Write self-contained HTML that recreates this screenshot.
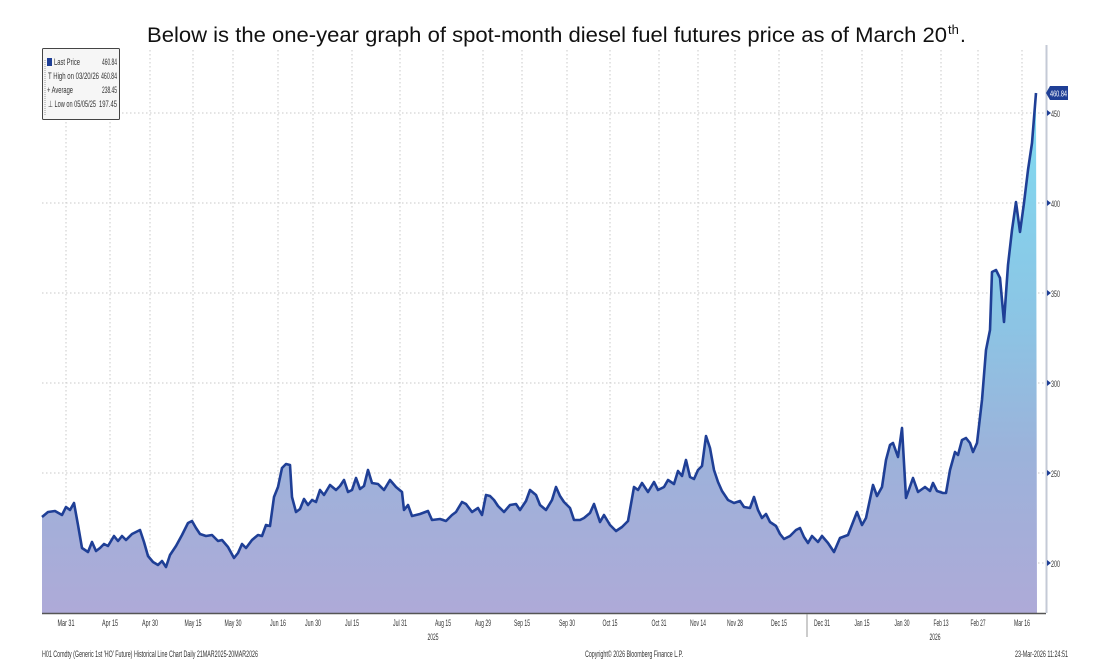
<!DOCTYPE html>
<html><head><meta charset="utf-8"><style>
html,body{margin:0;padding:0;background:#fff;}
svg{display:block;}
text{font-family:"Liberation Sans",sans-serif;}
.t{font-size:9px;fill:#333;}
</style></head><body>
<svg width="1116" height="664" viewBox="0 0 1116 664" xmlns="http://www.w3.org/2000/svg">
<defs>
<linearGradient id="g" gradientUnits="userSpaceOnUse" x1="0" y1="90" x2="0" y2="613">
<stop offset="0" stop-color="#7fdcf2"/>
<stop offset="0.45" stop-color="#8cc4e4"/>
<stop offset="0.7" stop-color="#9cb2da"/>
<stop offset="1" stop-color="#aeaad8"/>
</linearGradient>
</defs>
<text x="147" y="42" font-size="21" textLength="800" lengthAdjust="spacingAndGlyphs" fill="#111">Below is the one-year graph of spot-month diesel fuel futures price as of March 20</text>
<text x="948" y="34" font-size="13" fill="#111">th</text>
<text x="960" y="42" font-size="21" fill="#111">.</text>

<g stroke="#c8c8c8" stroke-width="1" stroke-dasharray="1.5,2.5">
<line x1="42" y1="113" x2="1046" y2="113"/><line x1="42" y1="203" x2="1046" y2="203"/>
<line x1="42" y1="293" x2="1046" y2="293"/><line x1="42" y1="383" x2="1046" y2="383"/>
<line x1="42" y1="473" x2="1046" y2="473"/><line x1="42" y1="563" x2="1046" y2="563"/>
<line x1="66" y1="50" x2="66" y2="613"/><line x1="110" y1="50" x2="110" y2="613"/>
<line x1="150" y1="50" x2="150" y2="613"/><line x1="193" y1="50" x2="193" y2="613"/>
<line x1="233" y1="50" x2="233" y2="613"/><line x1="278" y1="50" x2="278" y2="613"/>
<line x1="313" y1="50" x2="313" y2="613"/><line x1="352" y1="50" x2="352" y2="613"/>
<line x1="400" y1="50" x2="400" y2="613"/><line x1="443" y1="50" x2="443" y2="613"/>
<line x1="483" y1="50" x2="483" y2="613"/><line x1="522" y1="50" x2="522" y2="613"/>
<line x1="567" y1="50" x2="567" y2="613"/><line x1="610" y1="50" x2="610" y2="613"/>
<line x1="659" y1="50" x2="659" y2="613"/><line x1="698" y1="50" x2="698" y2="613"/>
<line x1="735" y1="50" x2="735" y2="613"/><line x1="779" y1="50" x2="779" y2="613"/>
<line x1="822" y1="50" x2="822" y2="613"/><line x1="862" y1="50" x2="862" y2="613"/>
<line x1="902" y1="50" x2="902" y2="613"/><line x1="941" y1="50" x2="941" y2="613"/>
<line x1="978" y1="50" x2="978" y2="613"/><line x1="1022" y1="50" x2="1022" y2="613"/>
</g>

<polygon fill="url(#g)" points="42,613 42,517 48,512 55,511 62,515 66,507 70,510 74,503 78,525 82,548 88,552 92,542 96,551 100,548 104,544 108,546 114,536 118,541 122,536 126,540 132,534 140,530 144,542 148,556 153,562 158,565 162,561 166,567 170,555 176,546 182,535 188,523 192,521 196,528 200,534 206,536 212,535 218,541 222,540 228,547 234,558 238,553 242,544 246,548 252,540 258,535 262,536 266,525 270,526 274,497 278,487 282,468 286,464 290,465 292,497 296,512 300,509 304,499 308,505 312,500 316,502 320,490 324,495 330,485 336,490 340,486 344,480 348,492 352,490 356,478 360,489 364,486 368,470 372,483 378,484 384,490 390,480 396,487 402,492 404,510 408,505 412,516 420,514 428,511 432,520 440,519 446,521 452,515 456,512 462,502 466,504 472,512 478,508 482,515 486,495 490,496 494,500 498,506 504,512 510,505 516,504 520,510 526,501 530,490 536,495 540,505 546,510 552,500 556,487 560,496 564,502 570,508 574,520 580,520 584,518 590,513 594,504 600,522 604,515 610,525 616,531 622,527 628,521 634,487 638,490 642,483 648,492 654,482 658,490 664,487 668,480 674,484 678,471 682,476 686,460 690,477 694,479 698,470 702,466 706,436 710,448 714,470 718,482 722,491 728,500 734,503 740,501 744,507 750,508 754,497 758,510 762,518 766,514 770,522 776,526 780,534 784,539 790,536 796,530 800,528 804,537 808,543 812,536 818,542 822,536 828,543 834,552 840,538 848,535 857,512 862,525 866,518 873,485 877,496 882,487 886,460 890,445 893,443 898,457 902,428 906,498 913,478 918,492 925,487 930,491 933,483 937,491 943,493 946,493 950,470 955,452 958,455 962,440 966,438 970,443 973,452 977,443 982,400 986,350 990,330 992,272 996,270 1000,278 1004,322 1008,265 1012,230 1016,202 1020,232 1024,203 1028,170 1032,143 1036,93 1037,613"/>
<polyline fill="none" stroke="#1f3f96" stroke-width="2.6" stroke-linejoin="round" points="42,517 48,512 55,511 62,515 66,507 70,510 74,503 78,525 82,548 88,552 92,542 96,551 100,548 104,544 108,546 114,536 118,541 122,536 126,540 132,534 140,530 144,542 148,556 153,562 158,565 162,561 166,567 170,555 176,546 182,535 188,523 192,521 196,528 200,534 206,536 212,535 218,541 222,540 228,547 234,558 238,553 242,544 246,548 252,540 258,535 262,536 266,525 270,526 274,497 278,487 282,468 286,464 290,465 292,497 296,512 300,509 304,499 308,505 312,500 316,502 320,490 324,495 330,485 336,490 340,486 344,480 348,492 352,490 356,478 360,489 364,486 368,470 372,483 378,484 384,490 390,480 396,487 402,492 404,510 408,505 412,516 420,514 428,511 432,520 440,519 446,521 452,515 456,512 462,502 466,504 472,512 478,508 482,515 486,495 490,496 494,500 498,506 504,512 510,505 516,504 520,510 526,501 530,490 536,495 540,505 546,510 552,500 556,487 560,496 564,502 570,508 574,520 580,520 584,518 590,513 594,504 600,522 604,515 610,525 616,531 622,527 628,521 634,487 638,490 642,483 648,492 654,482 658,490 664,487 668,480 674,484 678,471 682,476 686,460 690,477 694,479 698,470 702,466 706,436 710,448 714,470 718,482 722,491 728,500 734,503 740,501 744,507 750,508 754,497 758,510 762,518 766,514 770,522 776,526 780,534 784,539 790,536 796,530 800,528 804,537 808,543 812,536 818,542 822,536 828,543 834,552 840,538 848,535 857,512 862,525 866,518 873,485 877,496 882,487 886,460 890,445 893,443 898,457 902,428 906,498 913,478 918,492 925,487 930,491 933,483 937,491 943,493 946,493 950,470 955,452 958,455 962,440 966,438 970,443 973,452 977,443 982,400 986,350 990,330 992,272 996,270 1000,278 1004,322 1008,265 1012,230 1016,202 1020,232 1024,203 1028,170 1032,143 1036,93"/>

<line x1="42" y1="613.5" x2="1046" y2="613.5" stroke="#555" stroke-width="1.5"/>
<line x1="1046.5" y1="45" x2="1046.5" y2="613" stroke="#c4cad6" stroke-width="2"/>
<g fill="#1f3f96">
<polygon points="1047,110 1051,113 1047,116"/><polygon points="1047,200 1051,203 1047,206"/>
<polygon points="1047,290 1051,293 1047,296"/><polygon points="1047,380 1051,383 1047,386"/>
<polygon points="1047,470 1051,473 1047,476"/><polygon points="1047,560 1051,563 1047,566"/>
</g>
<g class="t" font-size="10">
<text x="1051" y="117" textLength="9" lengthAdjust="spacingAndGlyphs">450</text>
<text x="1051" y="207" textLength="9" lengthAdjust="spacingAndGlyphs">400</text>
<text x="1051" y="297" textLength="9" lengthAdjust="spacingAndGlyphs">350</text>
<text x="1051" y="387" textLength="9" lengthAdjust="spacingAndGlyphs">300</text>
<text x="1051" y="477" textLength="9" lengthAdjust="spacingAndGlyphs">250</text>
<text x="1051" y="567" textLength="9" lengthAdjust="spacingAndGlyphs">200</text>
</g>
<polygon points="1046,93 1050,86 1068,86 1068,100 1050,100" fill="#1f3f96"/>
<text x="1050" y="96.5" font-size="8" fill="#fff" textLength="17" lengthAdjust="spacingAndGlyphs">460.84</text>

<g class="t" font-size="10" text-anchor="middle" lengthAdjust="spacingAndGlyphs">
<text x="66" y="626" textLength="17" lengthAdjust="spacingAndGlyphs">Mar 31</text><text x="110" y="626" textLength="16" lengthAdjust="spacingAndGlyphs">Apr 15</text><text x="150" y="626" textLength="16" lengthAdjust="spacingAndGlyphs">Apr 30</text>
<text x="193" y="626" textLength="17" lengthAdjust="spacingAndGlyphs">May 15</text><text x="233" y="626" textLength="17" lengthAdjust="spacingAndGlyphs">May 30</text><text x="278" y="626" textLength="16" lengthAdjust="spacingAndGlyphs">Jun 16</text>
<text x="313" y="626" textLength="16" lengthAdjust="spacingAndGlyphs">Jun 30</text><text x="352" y="626" textLength="14" lengthAdjust="spacingAndGlyphs">Jul 15</text><text x="400" y="626" textLength="14" lengthAdjust="spacingAndGlyphs">Jul 31</text>
<text x="443" y="626" textLength="16" lengthAdjust="spacingAndGlyphs">Aug 15</text><text x="483" y="626" textLength="16" lengthAdjust="spacingAndGlyphs">Aug 29</text><text x="522" y="626" textLength="16" lengthAdjust="spacingAndGlyphs">Sep 15</text>
<text x="567" y="626" textLength="16" lengthAdjust="spacingAndGlyphs">Sep 30</text><text x="610" y="626" textLength="15" lengthAdjust="spacingAndGlyphs">Oct 15</text><text x="659" y="626" textLength="15" lengthAdjust="spacingAndGlyphs">Oct 31</text>
<text x="698" y="626" textLength="16" lengthAdjust="spacingAndGlyphs">Nov 14</text><text x="735" y="626" textLength="16" lengthAdjust="spacingAndGlyphs">Nov 28</text><text x="779" y="626" textLength="16" lengthAdjust="spacingAndGlyphs">Dec 15</text>
<text x="822" y="626" textLength="16" lengthAdjust="spacingAndGlyphs">Dec 31</text><text x="862" y="626" textLength="15" lengthAdjust="spacingAndGlyphs">Jan 15</text><text x="902" y="626" textLength="15" lengthAdjust="spacingAndGlyphs">Jan 30</text>
<text x="941" y="626" textLength="15" lengthAdjust="spacingAndGlyphs">Feb 13</text><text x="978" y="626" textLength="15" lengthAdjust="spacingAndGlyphs">Feb 27</text><text x="1022" y="626" textLength="16" lengthAdjust="spacingAndGlyphs">Mar 16</text>
<text x="433" y="640" textLength="11" lengthAdjust="spacingAndGlyphs">2025</text><text x="935" y="640" textLength="11" lengthAdjust="spacingAndGlyphs">2026</text>
</g>
<line x1="807" y1="614" x2="807" y2="637" stroke="#999"/>
<g class="t" font-size="8">
<text x="42" y="657" textLength="216" lengthAdjust="spacingAndGlyphs">H01 Comdty (Generic 1st 'HO' Future) Historical Line Chart Daily 21MAR2025-20MAR2026</text>
<text x="585" y="657" textLength="98" lengthAdjust="spacingAndGlyphs">Copyright© 2026 Bloomberg Finance L.P.</text>
<text x="1015" y="657" textLength="53" lengthAdjust="spacingAndGlyphs">23-Mar-2026 11:24:51</text>
</g>

<rect x="42.5" y="48.5" width="77" height="71" fill="#f6f6f6" stroke="#444" rx="1"/>
<rect x="47" y="58" width="5" height="8" fill="#1f3f96"/>
<line x1="45" y1="60" x2="45" y2="115" stroke="#999" stroke-dasharray="1,1"/>
<g class="t" font-size="8" fill="#222">
<text x="54" y="65" textLength="26" lengthAdjust="spacingAndGlyphs">Last Price</text>
<text x="102" y="65" textLength="15" lengthAdjust="spacingAndGlyphs">460.84</text>
<text x="48" y="79" textLength="51" lengthAdjust="spacingAndGlyphs">T High on 03/20/26</text>
<text x="101" y="79" textLength="16" lengthAdjust="spacingAndGlyphs">460.84</text>
<text x="47" y="93" textLength="26" lengthAdjust="spacingAndGlyphs">+ Average</text>
<text x="102" y="93" textLength="15" lengthAdjust="spacingAndGlyphs">238.45</text>
<text x="48" y="107" textLength="48" lengthAdjust="spacingAndGlyphs">⊥ Low on 05/05/25</text>
<text x="99" y="107" textLength="18" lengthAdjust="spacingAndGlyphs">197.45</text>
</g>
</svg>
</body></html>
